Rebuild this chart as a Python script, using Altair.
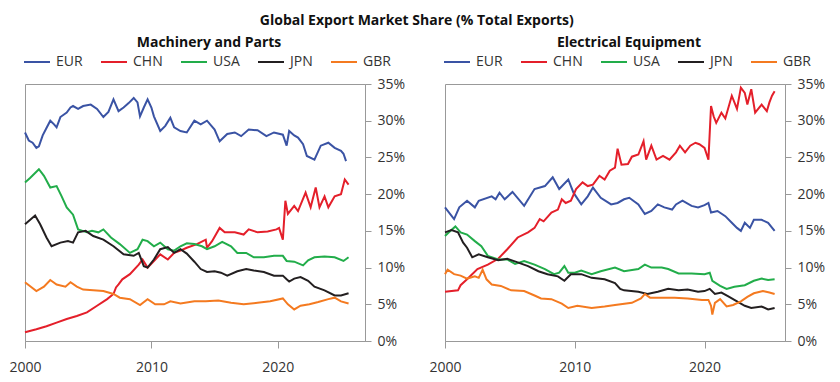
import altair as alt
import pandas as pd

SERIES = ["EUR", "CHN", "USA", "JPN", "GBR"]
COLORS = ["#3a53a4", "#e41f2a", "#22ad4a", "#231f20", "#f47a20"]

# ---- Machinery and Parts: (year, % share) ----
MP_EUR = [(2000.0, 28.4), (2000.3, 27.3), (2000.6, 27.0), (2000.9, 26.3), (2001.1, 26.5), (2001.4, 28.0),
          (2001.7, 29.0), (2002.0, 30.0), (2002.3, 29.5), (2002.5, 29.1), (2002.8, 30.5), (2003.3, 31.1),
          (2003.6, 31.8), (2003.8, 32.0), (2004.2, 31.6), (2004.6, 32.0), (2005.2, 32.2), (2005.7, 31.6),
          (2006.2, 30.5), (2006.6, 31.2), (2007.0, 32.9), (2007.4, 31.3), (2007.8, 31.8), (2008.2, 32.4),
          (2008.6, 33.1), (2008.9, 32.5), (2009.1, 30.6), (2009.4, 31.8), (2009.7, 32.9), (2010.0, 31.8),
          (2010.2, 30.6), (2010.7, 28.6), (2011.1, 29.3), (2011.5, 30.4), (2011.8, 29.1), (2012.3, 28.6),
          (2012.8, 28.4), (2013.4, 30.0), (2013.9, 29.5), (2014.4, 30.0), (2015.0, 28.8), (2015.4, 27.2),
          (2016.0, 28.2), (2016.6, 28.4), (2017.1, 27.9), (2017.7, 28.8), (2018.4, 28.7), (2019.1, 27.9),
          (2019.7, 28.4), (2020.4, 28.1), (2020.7, 26.6), (2020.9, 28.6), (2021.3, 28.0), (2021.6, 27.7),
          (2022.0, 26.8), (2022.3, 25.2), (2022.9, 24.7), (2023.4, 26.6), (2024.0, 27.0), (2024.5, 26.3),
          (2025.0, 25.9), (2025.2, 25.5), (2025.4, 24.5)]
MP_CHN = [(2000.0, 1.2), (2000.9, 1.6), (2001.7, 2.0), (2002.5, 2.5), (2003.3, 3.0), (2004.1, 3.4),
          (2004.9, 3.9), (2005.7, 4.8), (2006.5, 5.7), (2007.0, 6.4), (2007.2, 7.3), (2007.4, 7.7),
          (2007.7, 8.4), (2008.3, 9.1), (2009.0, 10.4), (2009.3, 11.1), (2009.7, 10.0), (2010.2, 10.9),
          (2010.7, 11.8), (2011.3, 11.1), (2011.8, 12.0), (2012.3, 12.3), (2012.8, 12.7), (2013.6, 13.2),
          (2014.3, 13.8), (2014.4, 12.7), (2014.8, 13.6), (2015.4, 15.4), (2015.8, 14.8), (2016.6, 14.8),
          (2017.3, 14.5), (2017.7, 15.2), (2018.4, 14.8), (2019.2, 14.9), (2019.9, 15.2), (2020.1, 15.4),
          (2020.4, 13.8), (2020.6, 19.1), (2020.8, 17.3), (2021.3, 18.4), (2021.6, 17.7), (2022.2, 20.2),
          (2022.6, 18.2), (2023.0, 20.9), (2023.3, 18.2), (2023.7, 19.7), (2024.0, 18.2), (2024.5, 19.7),
          (2025.0, 20.0), (2025.3, 22.0), (2025.6, 21.3)]
MP_USA = [(2000.0, 21.6), (2000.4, 22.2), (2001.1, 23.4), (2001.5, 22.5), (2002.0, 20.9), (2002.5, 21.1),
          (2002.9, 19.7), (2003.3, 18.2), (2003.8, 17.2), (2004.2, 15.2), (2004.9, 14.8), (2005.3, 15.0),
          (2005.8, 14.8), (2006.2, 15.2), (2006.8, 14.1), (2007.5, 13.2), (2008.3, 12.0), (2008.9, 12.5),
          (2009.3, 13.8), (2009.7, 13.6), (2010.2, 12.9), (2010.7, 13.4), (2011.3, 12.5), (2011.8, 12.3),
          (2012.3, 12.9), (2012.8, 13.3), (2013.4, 13.2), (2014.0, 12.9), (2014.4, 12.5), (2015.0, 12.9),
          (2015.6, 13.5), (2016.3, 12.9), (2016.8, 12.0), (2017.5, 12.0), (2018.1, 11.4), (2018.9, 11.4),
          (2019.7, 11.6), (2020.4, 11.6), (2020.7, 10.9), (2021.3, 10.8), (2022.0, 10.3), (2022.4, 11.0),
          (2022.9, 11.4), (2023.7, 11.5), (2024.5, 11.4), (2025.2, 10.9), (2025.6, 11.4)]
MP_JPN = [(2000.0, 15.9), (2000.8, 17.1), (2001.2, 15.9), (2001.7, 14.1), (2002.1, 12.9), (2002.8, 13.4),
          (2003.4, 13.6), (2003.8, 13.4), (2004.2, 14.8), (2004.8, 15.0), (2005.4, 14.3), (2006.2, 13.8),
          (2007.0, 12.9), (2007.8, 11.8), (2008.6, 11.6), (2009.0, 12.0), (2009.4, 10.2), (2009.7, 10.0),
          (2010.2, 11.1), (2010.7, 12.5), (2011.3, 12.8), (2011.8, 12.0), (2012.3, 12.5), (2012.8, 11.9),
          (2013.4, 10.8), (2013.9, 9.8), (2014.4, 9.4), (2015.0, 9.5), (2015.5, 9.3), (2016.0, 8.9),
          (2016.8, 9.5), (2017.5, 9.8), (2018.1, 9.6), (2018.9, 9.4), (2019.7, 8.9), (2020.4, 8.9),
          (2020.7, 8.4), (2020.9, 8.1), (2021.3, 8.5), (2021.8, 8.7), (2022.4, 8.2), (2022.9, 7.4),
          (2023.7, 6.9), (2024.5, 6.2), (2025.0, 6.2), (2025.6, 6.5)]
MP_GBR = [(2000.0, 8.0), (2000.9, 6.8), (2001.5, 7.4), (2002.0, 8.3), (2002.5, 7.7), (2003.2, 7.4),
          (2003.6, 8.0), (2004.1, 7.4), (2004.6, 7.0), (2005.4, 6.9), (2006.2, 6.8), (2007.0, 6.4),
          (2007.5, 5.9), (2008.3, 5.7), (2009.1, 4.9), (2009.7, 5.7), (2010.3, 5.0), (2011.0, 5.0),
          (2011.5, 5.4), (2012.3, 5.1), (2013.4, 5.4), (2014.3, 5.4), (2015.3, 5.5), (2016.3, 5.2),
          (2017.3, 5.0), (2018.4, 5.2), (2019.4, 5.4), (2020.4, 5.8), (2020.8, 5.0), (2021.3, 4.3),
          (2021.8, 4.8), (2022.5, 5.0), (2023.2, 5.3), (2024.0, 5.7), (2024.5, 5.9), (2025.0, 5.4),
          (2025.6, 5.1)]

# ---- Electrical Equipment: (year, % share) ----
EE_EUR = [(2000.0, 18.2), (2000.7, 16.6), (2001.1, 18.2), (2001.7, 19.1), (2002.3, 18.2), (2002.6, 19.1),
          (2003.6, 19.7), (2003.9, 19.3), (2004.2, 20.2), (2004.6, 19.3), (2005.2, 20.3), (2006.1, 18.4),
          (2006.9, 20.7), (2007.7, 21.1), (2008.3, 22.3), (2008.8, 20.7), (2009.5, 22.0), (2009.9, 20.2),
          (2010.5, 18.6), (2011.0, 19.7), (2011.4, 20.9), (2012.0, 19.5), (2012.8, 18.6), (2013.3, 18.8),
          (2013.8, 19.3), (2014.2, 19.5), (2014.9, 18.6), (2015.4, 17.3), (2015.9, 17.7), (2016.4, 18.6),
          (2016.9, 18.2), (2017.5, 17.9), (2017.8, 18.6), (2018.3, 19.1), (2019.0, 18.4), (2019.5, 18.2),
          (2020.0, 18.5), (2020.3, 18.8), (2020.5, 17.5), (2021.0, 17.7), (2021.6, 17.0), (2022.1, 16.1),
          (2022.5, 15.4), (2022.8, 15.0), (2023.1, 16.1), (2023.5, 15.4), (2023.8, 16.5), (2024.4, 16.5),
          (2024.9, 16.1), (2025.4, 15.0)]
EE_CHN = [(2000.0, 6.7), (2001.0, 6.9), (2001.2, 7.6), (2001.7, 8.4), (2002.5, 9.8), (2003.3, 10.4),
          (2004.1, 11.2), (2004.8, 12.5), (2005.6, 14.1), (2006.4, 14.8), (2006.9, 15.4), (2007.3, 16.6),
          (2007.6, 16.3), (2008.2, 17.5), (2008.7, 17.9), (2009.0, 19.3), (2009.3, 18.8), (2009.7, 19.1),
          (2010.1, 20.7), (2010.6, 21.6), (2011.0, 21.1), (2011.4, 21.3), (2011.9, 22.5), (2012.3, 22.0),
          (2012.7, 23.2), (2013.1, 23.6), (2013.3, 26.2), (2013.6, 24.0), (2014.1, 24.1), (2014.4, 25.1),
          (2014.9, 25.4), (2015.3, 27.2), (2015.5, 24.7), (2015.9, 26.6), (2016.3, 24.7), (2016.8, 25.2),
          (2017.3, 24.7), (2017.8, 25.7), (2018.1, 26.6), (2018.5, 25.7), (2018.9, 26.6), (2019.3, 27.0),
          (2019.6, 26.8), (2020.0, 26.3), (2020.3, 24.7), (2020.5, 32.0), (2020.7, 30.6), (2020.9, 29.7),
          (2021.3, 31.1), (2021.6, 30.3), (2022.1, 33.4), (2022.5, 31.6), (2022.8, 34.5), (2023.1, 33.8),
          (2023.3, 32.2), (2023.6, 34.3), (2023.9, 31.1), (2024.4, 32.2), (2024.8, 31.3), (2025.0, 32.5),
          (2025.2, 33.4), (2025.4, 34.0)]
EE_USA = [(2000.0, 14.3), (2000.3, 14.8), (2000.8, 15.6), (2001.2, 14.8), (2001.7, 14.5), (2002.3, 13.6),
          (2002.8, 12.9), (2003.3, 11.6), (2004.1, 11.1), (2004.8, 11.1), (2005.4, 10.5), (2006.1, 10.9),
          (2006.9, 10.4), (2007.7, 9.8), (2008.4, 9.1), (2008.8, 9.3), (2009.2, 10.2), (2009.5, 9.3),
          (2010.0, 9.3), (2010.5, 9.6), (2011.3, 9.1), (2012.0, 9.5), (2013.1, 10.0), (2013.8, 9.5),
          (2014.9, 9.8), (2015.4, 10.4), (2015.9, 10.0), (2016.7, 10.0), (2017.2, 9.8), (2018.0, 9.2),
          (2019.0, 9.2), (2020.0, 9.1), (2020.4, 9.3), (2020.6, 8.2), (2021.2, 7.5), (2021.7, 7.1),
          (2022.3, 7.4), (2023.1, 7.6), (2023.8, 8.2), (2024.4, 8.5), (2024.9, 8.3), (2025.4, 8.4)]
EE_JPN = [(2000.0, 14.8), (2000.5, 15.1), (2001.0, 14.8), (2001.4, 13.4), (2001.7, 12.7), (2002.1, 11.4),
          (2002.6, 11.8), (2003.3, 11.4), (2004.1, 11.0), (2004.8, 11.2), (2005.6, 10.7), (2006.4, 10.2),
          (2007.2, 9.5), (2007.9, 9.1), (2008.7, 8.8), (2009.2, 8.2), (2009.7, 9.1), (2010.5, 9.1),
          (2011.3, 8.6), (2012.3, 8.4), (2013.1, 7.9), (2013.5, 7.1), (2013.8, 6.9), (2014.9, 6.7),
          (2015.6, 6.4), (2016.4, 6.7), (2017.2, 7.1), (2018.0, 6.9), (2018.7, 7.0), (2019.5, 6.7),
          (2020.0, 6.8), (2020.4, 7.1), (2020.8, 6.4), (2021.3, 6.6), (2021.8, 6.1), (2022.5, 5.4),
          (2023.1, 4.8), (2023.6, 4.5), (2024.4, 4.7), (2024.9, 4.3), (2025.4, 4.5)]
EE_GBR = [(2000.0, 9.1), (2000.2, 9.7), (2000.7, 9.1), (2001.2, 8.9), (2001.7, 8.5), (2002.3, 8.8),
          (2002.6, 8.6), (2002.9, 9.7), (2003.2, 8.4), (2003.6, 7.7), (2004.3, 7.5), (2005.1, 6.9),
          (2006.1, 6.8), (2006.9, 6.2), (2007.4, 5.8), (2008.2, 5.7), (2009.0, 5.1), (2009.5, 4.5),
          (2010.2, 4.8), (2011.3, 4.5), (2012.3, 4.7), (2013.1, 4.9), (2014.4, 5.2), (2015.1, 5.8),
          (2015.4, 6.4), (2015.8, 5.9), (2016.7, 5.9), (2017.7, 5.9), (2018.7, 5.8), (2019.8, 5.6),
          (2020.3, 5.6), (2020.5, 4.8), (2020.6, 3.6), (2020.8, 5.2), (2021.2, 5.7), (2021.7, 4.7),
          (2022.2, 4.9), (2022.8, 5.4), (2023.3, 6.0), (2023.8, 6.5), (2024.5, 6.8), (2025.0, 6.6),
          (2025.4, 6.4)]

Y_TICKS = [0, 5, 10, 15, 20, 25, 30, 35]
X_TICKS = [2000, 2010, 2020]
FONT = "Open Sans"


def frame(series_map):
    rows = []
    for name, pts in series_map.items():
        for t, v in pts:
            rows.append({"series": name, "t": t, "v": v})
    return pd.DataFrame(rows)


def panel(df, title, xmax):
    return alt.Chart(df).mark_line(strokeWidth=2).encode(
        x=alt.X("t:Q", scale=alt.Scale(domain=[2000, xmax], nice=False, zero=False),
                axis=alt.Axis(values=X_TICKS, format="d", title=None, labelFlush=False,
                              tickSize=7, labelPadding=12)),
        y=alt.Y("v:Q", scale=alt.Scale(domain=[0, 35], nice=False),
                axis=alt.Axis(orient="right", values=Y_TICKS, labelExpr="datum.value + '%'",
                              title=None, tickSize=6, labelPadding=6)),
        color=alt.Color("series:N", scale=alt.Scale(domain=SERIES, range=COLORS),
                        legend=alt.Legend(orient="none", legendX=-2, legendY=-36, direction="horizontal",
                                          columns=5, title=None, symbolType="stroke", symbolSize=676,
                                          symbolStrokeWidth=2, labelFontSize=14, labelFont=FONT,
                                          labelColor="#333", columnPadding=14, labelOffset=5, padding=0)),
    ).properties(
        width=340, height=257,
        title=alt.TitleParams(title, anchor="middle", frame="group", dx=14, fontSize=14,
                              font=FONT, fontWeight="bold", color="#111", offset=-2),
    )


mp = panel(frame({"EUR": MP_EUR, "CHN": MP_CHN, "USA": MP_USA, "JPN": MP_JPN, "GBR": MP_GBR}),
           "Machinery and Parts", 2026.9)
ee = panel(frame({"EUR": EE_EUR, "CHN": EE_CHN, "USA": EE_USA, "JPN": EE_JPN, "GBR": EE_GBR}),
           "Electrical Equipment", 2026.2)

chart = alt.hconcat(mp, ee, spacing=22).resolve_legend(color="independent").properties(
    title=alt.TitleParams("Global Export Market Share (% Total Exports)", anchor="middle",
                          fontSize=14, font=FONT, fontWeight="bold", color="#111", offset=8),
    padding={"left": 0, "right": 0, "top": 5, "bottom": 0},
).configure_view(stroke="#999", strokeWidth=1).configure_axis(
    grid=False, labelFont=FONT, labelFontSize=14, labelColor="#333",
    domainColor="#999", tickColor="#999",
)

chart.save("out.html", embed_options={"renderer": "svg", "actions": False})
